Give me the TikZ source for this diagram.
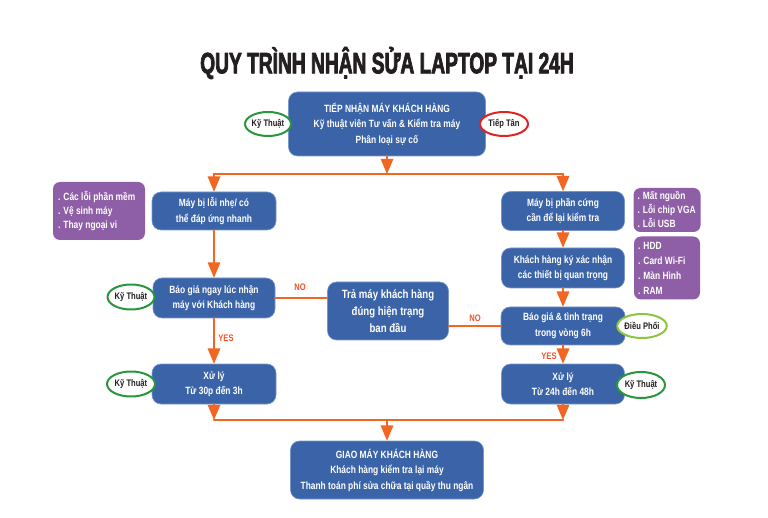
\documentclass[tikz,border=0pt]{standalone}
\usepackage{fontspec}
\setmainfont{Liberation Sans}[FakeStretch=0.8]
\newfontfamily\tieude{Liberation Sans}[FakeStretch=0.65,FakeBold=2.5]
\usepackage{tikz}
\usetikzlibrary{arrows}
\usetikzlibrary{shapes.geometric}
\definecolor{xanhhop}{RGB}{58,99,168}
\definecolor{vienhop}{RGB}{120,150,200}
\definecolor{timhop}{RGB}{142,94,166}
\definecolor{camday}{RGB}{242,101,34}
\definecolor{xanhla}{RGB}{40,150,60}
\definecolor{dovien}{RGB}{225,35,35}
\definecolor{xanhnhat}{RGB}{140,198,63}
\definecolor{chudo}{RGB}{240,80,40}
\definecolor{chuden}{RGB}{35,31,32}
\begin{document}
\begin{tikzpicture}[line cap=round,line join=round,>=triangle 45,x=1pt,y=-1pt,
  hop/.style={rectangle,rounded corners=9pt,fill=xanhhop,draw=vienhop,line width=0.6pt,text=white,align=center,inner sep=0pt,font=\fontsize{10.5}{15.5}\selectfont\bfseries},
  ghichu/.style={rectangle,rounded corners=7pt,fill=timhop,text=white,align=flush left,inner xsep=5pt,inner ysep=0pt,font=\fontsize{10.5}{14}\selectfont\bfseries},
  vong/.style={ellipse,draw=xanhla,line width=2pt,fill=white,inner sep=0pt,text=chuden,font=\fontsize{9.5}{10}\selectfont\bfseries},
  noi/.style={line width=2.6pt,color=camday},
  nhan/.style={text=chudo,font=\fontsize{9.5}{10}\selectfont\bfseries}]
\useasboundingbox (0,0) rectangle (768,518);
%\draw[help lines] (0,0) grid (768,518);
\node (tieude) at (387,63) {\tieude\bfseries\fontsize{29.5}{30}\selectfont\color{chuden} QUY TRÌNH NHẬN SỬA LAPTOP TẠI 24H};

\node [hop,minimum width=197,minimum height=64] (tiepnhan) at (387,124) {TIẾP NHẬN MÁY KHÁCH HÀNG\\Kỹ thuật viên Tư vấn \& Kiểm tra máy\\Phân loại sự cố};
\node [vong,minimum width=46,minimum height=24] (kythuat1) at (268,124) {Kỹ Thuật};
\node [vong,draw=dovien,minimum width=48,minimum height=24] (tieptan) at (504,124) {Tiếp Tân};

\node [hop,minimum width=124,minimum height=38] (loinhe) at (214,211) {Máy bị lỗi nhẹ/ có\\thể đáp ứng nhanh};
\node [ghichu,text width=82,minimum height=58] (phanmem) at (99,211) {. Các lỗi phần mềm\\. Vệ sinh máy\\. Thay ngoại vi};
\node [hop,minimum width=123,minimum height=39] (phancung) at (563,211) {Máy bị phần cứng\\cần để lại kiểm tra};
\node [ghichu,text width=59,inner xsep=4pt,minimum height=44] (nguon) at (667,210) {. Mất nguồn\\. Lỗi chip VGA\\. Lỗi USB};
\node [hop,minimum width=123,minimum height=40] (xacnhan) at (563,268) {Khách hàng ký xác nhận\\các thiết bị quan trọng};
\node [ghichu,text width=58,inner xsep=4pt,minimum height=63,font=\fontsize{10.5}{15}\selectfont\bfseries] (linhkien) at (667,268) {. HDD\\. Card Wi-Fi\\. Màn Hình\\. RAM};

\node [hop,minimum width=122,minimum height=40] (baogiatrai) at (214,298) {Báo giá ngay lúc nhận\\máy với Khách hàng};
\node [vong,minimum width=47,minimum height=25] (kythuat2) at (131,297) {Kỹ Thuật};
\node [hop,minimum width=121,minimum height=58,font=\fontsize{12}{17}\selectfont\bfseries] (tramay) at (388,311) {Trả máy khách hàng\\đúng hiện trạng\\ban đầu};
\node [hop,minimum width=124,minimum height=38] (baogiaphai) at (563,326) {Báo giá \& tình trạng\\trong vòng 6h};
\node [vong,draw=xanhnhat,minimum width=46,minimum height=24] (dieuphoi) at (642,326) {Điều Phối};

\node [hop,minimum width=124,minimum height=40] (xulytrai) at (214,384) {Xử lý\\Từ 30p đến 3h};
\node [vong,minimum width=48,minimum height=25] (kythuat3) at (131,384) {Kỹ Thuật};
\node [hop,minimum width=123,minimum height=40] (xulyphai) at (563,384) {Xử lý\\Từ 24h đến 48h};
\node [vong,minimum width=48,minimum height=26] (kythuat4) at (641,385) {Kỹ Thuật};

\node [hop,minimum width=193,minimum height=58] (giaomay) at (387,470) {GIAO MÁY KHÁCH HÀNG\\Khách hàng kiểm tra lại máy\\Thanh toán phí sửa chữa tại quầy thu ngân};

\coordinate (chia) at (387,174);
\coordinate (chiatrai) at (214,174);
\coordinate (chiaphai) at (563,174);
\coordinate (gom) at (387,420);
\coordinate (gomtrai) at (214,420);
\coordinate (gomphai) at (563,420);

\draw [noi,->] (tiepnhan.south) -- (chia);
\draw [noi] (chiatrai) -- (chiaphai);
\draw [noi,->] (chiatrai) -- (loinhe.north);
\draw [noi,->] (chiaphai) -- (phancung.north);
\draw [noi,->] (loinhe.south) -- (baogiatrai.north);
\draw [noi,->] (baogiatrai.south) -- (xulytrai.north);
\draw [noi,->] (phancung.south) -- (xacnhan.north);
\draw [noi,->] (xacnhan.south) -- (baogiaphai.north);
\draw [noi,->] (baogiaphai.south) -- (xulyphai.north);
\draw [noi] (baogiatrai.east) -- (baogiatrai.east -| tramay.west);
\draw [noi] (tramay.east |- baogiaphai.west) -- (baogiaphai.west);
\draw [noi,->] (xulytrai.south) -- (gomtrai);
\draw [noi,->] (xulyphai.south) -- (gomphai);
\draw [noi] (gomtrai) -- (gomphai);
\draw [noi,->] (gom) -- (giaomay.north);

\node [nhan] (no1) at (300,287) {NO};
\node [nhan] (no2) at (475,318) {NO};
\node [nhan] (yes1) at (226,338) {YES};
\node [nhan] (yes2) at (549,356) {YES};
\end{tikzpicture}
\end{document}
